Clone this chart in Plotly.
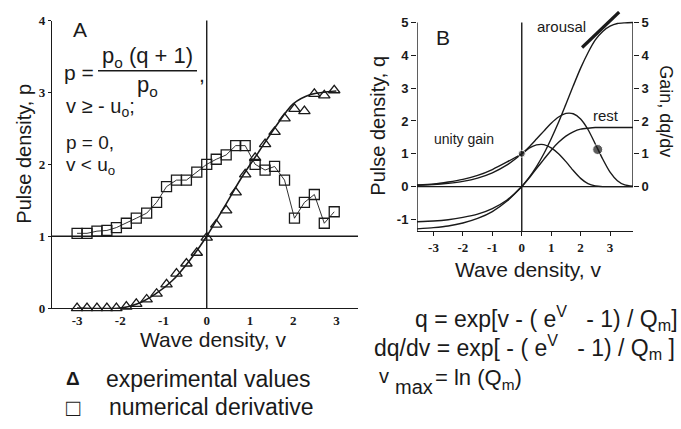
import plotly.graph_objects as go

W, H = 681, 429
def X(px): return px / W
def Y(py): return 1 - py / H

# ---------------- Panel A data ----------------
v_a = [-3.00, -2.77, -2.54, -2.31, -2.09, -1.86, -1.63, -1.39, -1.16, -0.93, -0.70, -0.47, -0.23, 0.00,
       0.22, 0.45, 0.67, 0.89, 1.12, 1.35, 1.57, 1.80, 2.03, 2.26, 2.49, 2.72, 2.95]
p_experimental = [0.0, 0.0, 0.0, 0.0, 0.0, 0.02, 0.06, 0.12, 0.20, 0.33, 0.48, 0.62, 0.77, 0.98,
                  1.16, 1.36, 1.61, 1.86, 2.09, 2.28, 2.45, 2.64, 2.77, 2.74, 2.98, 2.96, 3.03]
p_derivative = [1.04, 1.04, 1.07, 1.08, 1.12, 1.18, 1.25, 1.32, 1.47, 1.69, 1.78, 1.78, 1.89, 2.00,
                2.07, 2.13, 2.26, 2.26, 2.00, 1.92, 1.97, 1.78, 1.25, 1.47, 1.58, 1.18, 1.34]
fit_v = [-3.00, -2.00, -1.60, -1.20, -0.80, -0.40, 0.00, 0.40, 0.80, 1.20, 1.60, 2.00, 2.40, 2.80, 3.00]
fit_p = [0.00, 0.00, 0.06, 0.19, 0.38, 0.66, 1.00, 1.40, 1.81, 2.17, 2.53, 2.84, 2.97, 3.01, 3.02]
a_xticks = [-3, -2, -1, 0, 1, 2, 3]
a_xticktext = ["-3", "-2", "-1", "0", "1", "2", "3"]
a_yticks = [0, 1, 2, 3, 4]

# ---------------- Panel B data ----------------
v_b = [-3.56, -3.0, -2.5, -2.0, -1.5, -1.0, -0.5, 0.0, 0.25, 0.5, 0.75, 1.0, 1.25, 1.5, 1.75,
       2.0, 2.25, 2.5, 2.75, 3.0, 3.25, 3.5, 3.78]
q_rest = [-1.29, -1.25, -1.20, -1.11, -0.97, -0.76, -0.44, 0.0, 0.26, 0.55, 0.83, 1.11, 1.35, 1.54, 1.67,
          1.75, 1.78, 1.80, 1.80, 1.80, 1.80, 1.80, 1.80]
q_arousal = [-1.07, -1.05, -1.01, -0.94, -0.84, -0.67, -0.41, 0.0, 0.28, 0.61, 1.00, 1.46, 1.96, 2.51, 3.07,
             3.61, 4.08, 4.47, 4.73, 4.89, 4.97, 4.99, 5.00]
gain_rest = [0.05, 0.08, 0.14, 0.22, 0.34, 0.52, 0.75, 1.00, 1.17, 1.27, 1.28, 1.18, 1.00, 0.76, 0.49,
             0.25, 0.09, 0.02, 0.0, 0.0, 0.0, 0.0, 0.0]
gain_arousal = [0.04, 0.06, 0.10, 0.16, 0.26, 0.42, 0.66, 1.00, 1.21, 1.45, 1.69, 1.93, 2.12, 2.23, 2.22,
                2.06, 1.74, 1.30, 0.84, 0.44, 0.18, 0.05, 0.01]
dots_v = [0.0, 2.58]
dots_q = [1.0, 1.13]
tangent_v = [2.05, 3.31]
tangent_q = [4.24, 5.32]
b_xticks = [-3, -2, -1, 0, 1, 2, 3]
b_xticktext = ["-3", "-2", "-1", "0", "1", "2", "3"]
b_yticks = [-1, 0, 1, 2, 3, 4, 5]
b_yticktext = ["-1", "0", "1", "2", "3", "4", "5"]
b_gainticks = [0, 1, 2, 3, 4, 5]

INK = "#1a1a1a"
SANS = "Liberation Sans, Arial, sans-serif"
SERIF = "Liberation Serif, Times New Roman, serif"
NB = "\u00a0"

A_XR = [-3.58, 3.50]
A_YR = [0, 4]
B_XR = [-3.56, 3.78]
B_YR = [-1.35, 5.35]

fig = go.Figure()

# Panel A traces
fig.add_trace(go.Scatter(x=fit_v, y=fit_p, mode="lines", line=dict(color=INK, width=1.6, shape="spline", smoothing=0.8),
                         xaxis="x", yaxis="y", cliponaxis=False, showlegend=False))
fig.add_trace(go.Scatter(x=v_a, y=p_derivative, mode="lines+markers",
                         line=dict(color=INK, width=0.9),
                         marker=dict(symbol="square-open", size=10, color=INK, line=dict(width=1.3, color=INK)),
                         xaxis="x", yaxis="y", cliponaxis=False, showlegend=False))
fig.add_trace(go.Scatter(x=v_a, y=p_experimental, mode="markers",
                         marker=dict(symbol="triangle-up-open", size=10, color=INK, line=dict(width=1.3, color=INK)),
                         xaxis="x", yaxis="y", cliponaxis=False, showlegend=False))

# Panel B traces
for arr in (q_rest, q_arousal, gain_rest, gain_arousal):
    fig.add_trace(go.Scatter(x=v_b, y=arr, mode="lines",
                             line=dict(color=INK, width=1.4, shape="spline", smoothing=0.6),
                             xaxis="x2", yaxis="y2", cliponaxis=False, showlegend=False))
fig.add_trace(go.Scatter(x=tangent_v, y=tangent_q, mode="lines", line=dict(color=INK, width=3.2),
                         xaxis="x2", yaxis="y2", cliponaxis=False, showlegend=False))
fig.add_trace(go.Scatter(x=dots_v, y=dots_q, mode="markers",
                         marker=dict(size=[7, 10], color=INK),
                         xaxis="x2", yaxis="y2", cliponaxis=False, showlegend=False))

shapes = []
def line(x0, y0, x1, y1, xr, yr, w=1.4):
    shapes.append(dict(type="line", x0=x0, y0=y0, x1=x1, y1=y1, xref=xr, yref=yr,
                       line=dict(color=INK, width=w), layer="below"))

# Panel A reference lines
line(0, 0, 0, 4.03, "x", "y")
line(A_XR[0], 1, A_XR[1], 1, "x", "y")
# Panel B lines
line(B_XR[0], B_YR[0], B_XR[0], 5, "x2", "y2")
line(B_XR[1], 0, B_XR[1], 5, "x2", "y2")
line(B_XR[0], 0, B_XR[1], 0, "x2", "y2")
line(0, B_YR[0], 0, 5, "x2", "y2")
# fraction bar in A equation
shapes.append(dict(type="line", xref="paper", yref="paper", x0=X(98), x1=X(197), y0=Y(66), y1=Y(66),
                   line=dict(color=INK, width=1.6)))

ann = []
def text(px, py, s, size=19, xanchor="center", angle=0, family=SANS, weight="normal"):
    ann.append(dict(x=X(px), y=Y(py), xref="paper", yref="paper", text=s, showarrow=False,
                    xanchor=xanchor, yanchor="middle", textangle=angle,
                    font=dict(size=size, color=INK, family=family, weight=weight)))

# Panel A texts
text(80, 23, "A", 21)
text(62, 68, "p =", 21, "left")
text(147, 52, "p<sub>o</sub> (q + 1)", 22)
text(147, 82, "p<sub>o</sub>", 22)
text(197, 70, ",", 21, "left")
text(64, 104, "v ≥ - u<sub>o</sub>;", 20, "left")
text(64, 140, "p = 0,", 19, "left")
text(64, 165, "v < u<sub>o</sub>", 19, "left")
text(24, 152, "Pulse density, p", 20, angle=-90)
text(213, 345, "Wave density, v", 21)
text(73, 385, "<b>Δ</b>", 19)
text(208, 385, "experimental values", 23)
text(73, 415, "□", 24)
text(211, 415, "numerical derivative", 23)

# Panel B texts
text(443, 32, "B", 21)
text(561, 20, "arousal", 15)
text(606, 112, "rest", 15)
text(464, 137, "unity gain", 14)
text(378, 123, "Pulse density, q", 20, angle=-90)
text(666, 108, "Gain, dq/dv", 18, angle=90)
text(528, 272, "Wave density, v", 21)
text(413, 322, "q = exp[v - ( e<sup>V</sup>" + NB * 3 + "- 1) / Q<sub>m</sub>]", 23, "left")
text(372, 352, "dq/dv = exp[ - ( e<sup>V</sup>" + NB * 3 + "- 1) / Q<sub>m</sub> ]", 23, "left")
text(377, 382, "v", 20, "left")
text(393, 394, "max", 20, "left")
text(433, 385, "= ln (Q<sub>m</sub>)", 22, "left")

serif_tick = dict(family=SERIF, size=13, color=INK, weight="bold")
sans_tick = dict(family=SANS, size=13, color=INK, weight="bold")

fig.update_layout(
    width=W, height=H, margin=dict(l=0, r=0, t=0, b=0),
    paper_bgcolor="white", plot_bgcolor="rgba(0,0,0,0)",
    showlegend=False, shapes=shapes, annotations=ann,
    xaxis=dict(domain=[X(52), X(358)], range=A_XR, tickvals=a_xticks, ticktext=a_xticktext,
               showgrid=False, zeroline=False, showline=True, linecolor=INK, linewidth=1.4,
               ticks="", tickfont=serif_tick, anchor="y", fixedrange=True),
    yaxis=dict(domain=[Y(312), Y(14)], range=A_YR, tickvals=a_yticks,
               showgrid=False, zeroline=False, showline=True, linecolor=INK, linewidth=1.4,
               ticks="outside", ticklen=3, tickcolor=INK, tickfont=serif_tick, anchor="x", fixedrange=True),
    xaxis2=dict(domain=[X(417), X(633)], range=B_XR, tickvals=b_xticks, ticktext=b_xticktext,
                showgrid=False, zeroline=False, showline=True, linecolor=INK, linewidth=1.4,
                ticks="outside", ticklen=4, tickcolor=INK, tickfont=serif_tick, anchor="y2", fixedrange=True),
    yaxis2=dict(domain=[Y(232), Y(4.2)], range=B_YR, tickvals=b_yticks, ticktext=b_yticktext,
                showgrid=False, zeroline=False, showline=False,
                ticks="outside", ticklen=5, tickcolor=INK, tickfont=sans_tick, anchor="x2", fixedrange=True),
    yaxis3=dict(domain=[Y(232), Y(4.2)], range=B_YR, tickvals=b_gainticks, overlaying="y2", side="right",
                showgrid=False, zeroline=False, showline=False,
                ticks="outside", ticklen=5, tickcolor=INK, tickfont=sans_tick, anchor="x2", fixedrange=True),
)
# invisible point so the right-hand gain axis renders
fig.add_trace(go.Scatter(x=[0], y=[0], mode="markers", marker=dict(opacity=0), xaxis="x2", yaxis="y3",
                         showlegend=False, hoverinfo="skip"))

fig.write_html("out.html", config={"displayModeBar": False},
               post_script="document.body.style.margin='0';document.body.style.overflow='hidden';")
